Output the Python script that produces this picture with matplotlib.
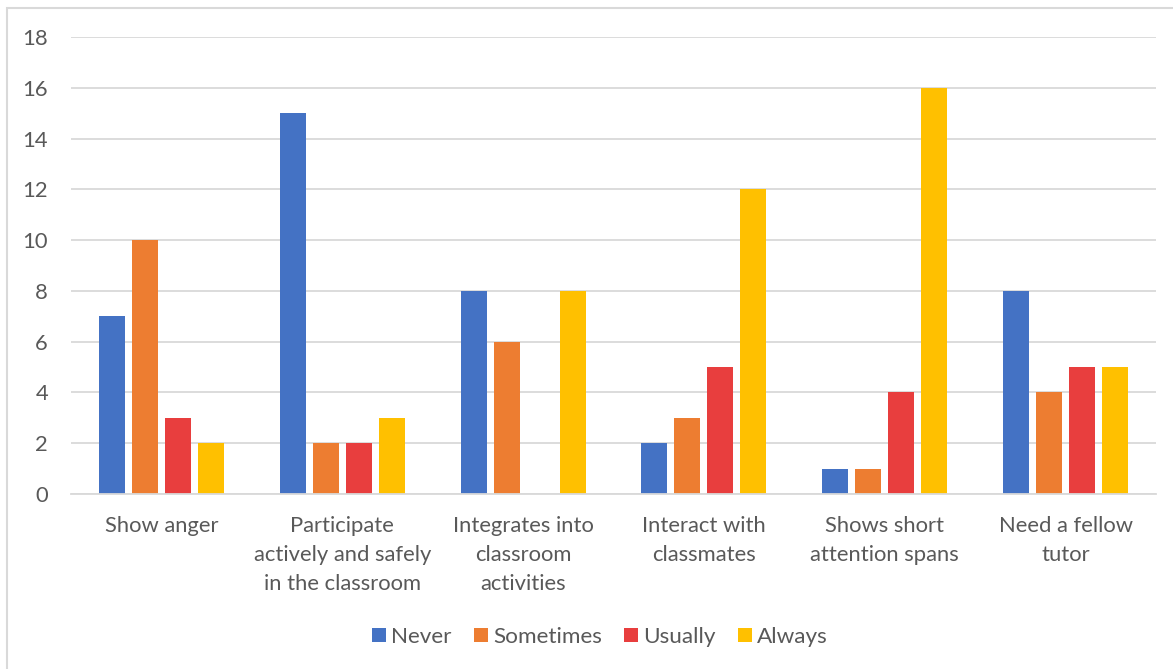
import matplotlib
matplotlib.use("Agg")
import matplotlib.pyplot as plt
from matplotlib.patches import Rectangle
import numpy as np

categories = [
    "Show anger",
    "Participate\nactively and safely\nin the classroom",
    "Integrates into\nclassroom\nactivities",
    "Interact with\nclassmates",
    "Shows short\nattention spans",
    "Need a fellow\ntutor",
]
series_names = ["Never", "Sometimes", "Usually", "Always"]
never = [7, 15, 8, 2, 1, 8]
sometimes = [10, 2, 6, 3, 1, 4]
usually = [3, 2, 0, 5, 4, 5]
always = [2, 3, 8, 12, 16, 5]
yticks = [0, 2, 4, 6, 8, 10, 12, 14, 16, 18]

colors = ["#4472C4", "#ED7D31", "#E83E3E", "#FFC000"]
text_color = "#595959"
grid_color = "#D9D9D9"

plt.rcParams["font.family"] = ["Lato", "DejaVu Sans"]

fig = plt.figure(figsize=(11.73, 6.69), dpi=100)
ax = fig.add_axes([71 / 1173, 1 - 494 / 669, (1156 - 71) / 1173, (494 - 37) / 669])

# outer chart frame
fig.patches.append(Rectangle((7 / 1173, -0.05), 1.2, 1 - 8 / 669 + 0.05,
                             transform=fig.transFigure, fill=False,
                             edgecolor="#D9D9D9", linewidth=1.5))

x = np.arange(len(categories))
step = 0.1825
width = 0.144
data = [never, sometimes, usually, always]
for i, (vals, name, c) in enumerate(zip(data, series_names, colors)):
    offs = (i - 1.5) * step
    ax.bar(x + offs, vals, width, color=c, label=name, zorder=3)

ax.set_xlim(-0.5, len(categories) - 0.5)
ax.set_ylim(0, 18)
ax.set_yticks(yticks)
ax.set_yticklabels([str(v) for v in yticks])
ax.set_xticks(x)
ax.set_xticklabels(categories, linespacing=1.55)
ax.tick_params(axis="both", length=0, labelsize=15.8, colors=text_color)
ax.tick_params(axis="y", pad=16.5)
ax.tick_params(axis="x", pad=16)
ax.yaxis.grid(True, color=grid_color, linewidth=1.3, zorder=0)
for s in ["top", "right", "left"]:
    ax.spines[s].set_visible(False)
ax.spines["bottom"].set_color(grid_color)
ax.spines["bottom"].set_linewidth(1.3)
ax.spines["bottom"].set_zorder(4)

leg = fig.legend(loc="center", bbox_to_anchor=(600 / 1173, 1 - 637 / 669), ncol=4,
                 frameon=False, fontsize=16.2, handlelength=0.62, handleheight=0.62,
                 handletextpad=0.22, columnspacing=1.0)
for t in leg.get_texts():
    t.set_color(text_color)

fig.savefig("out.png", dpi=100, facecolor="white")
